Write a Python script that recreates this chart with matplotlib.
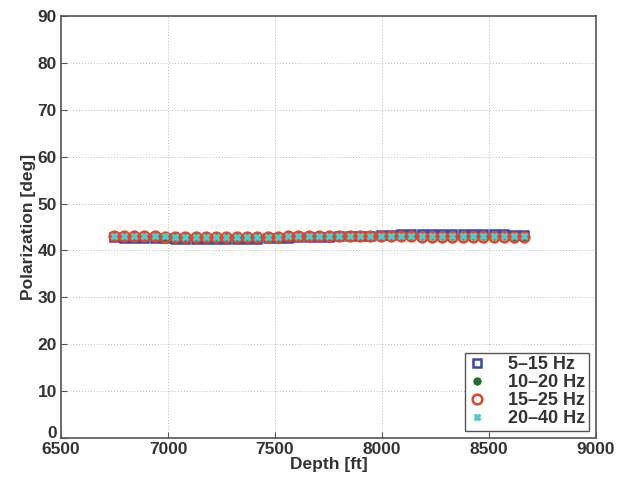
import matplotlib
matplotlib.use('Agg')
import matplotlib.pyplot as plt
import matplotlib.transforms as mtransforms

plt.rcParams['font.family'] = ['Liberation Sans', 'DejaVu Sans']

depth = [6745, 6793, 6841, 6889, 6937, 6985, 7033, 7081, 7129, 7177,
         7225, 7273, 7321, 7369, 7417, 7465, 7513, 7561, 7609, 7657,
         7705, 7753, 7801, 7849, 7897, 7945, 7993, 8041, 8089, 8137,
         8185, 8233, 8281, 8329, 8377, 8425, 8473, 8521, 8569, 8617, 8665]

pol_5_15 = [42.8, 42.7, 42.7, 42.7, 42.6, 42.6, 42.5, 42.5, 42.5, 42.4,
            42.4, 42.4, 42.4, 42.4, 42.5, 42.6, 42.7, 42.7, 42.8, 42.8,
            42.9, 42.9, 43.0, 43.0, 43.0, 43.1, 43.2, 43.3, 43.4, 43.5,
            43.5, 43.5, 43.5, 43.5, 43.5, 43.5, 43.5, 43.4, 43.4, 43.3, 43.3]
pol_10_20 = [43.0, 43.0, 43.0, 42.9, 42.9, 42.9, 42.8, 42.8, 42.8, 42.8,
             42.8, 42.8, 42.8, 42.8, 42.8, 42.8, 42.9, 42.9, 42.9, 42.9,
             43.0, 43.0, 43.0, 43.0, 43.0, 43.0, 43.1, 43.1, 43.1, 43.1,
             43.1, 43.1, 43.1, 43.1, 43.1, 43.1, 43.1, 43.0, 43.0, 43.0, 43.0]
pol_15_25 = [43.1, 43.1, 43.0, 43.0, 43.0, 42.9, 42.9, 42.9, 42.9, 42.9,
             42.9, 42.9, 42.9, 42.9, 42.9, 42.9, 42.9, 43.0, 43.0, 43.0,
             43.0, 43.0, 43.0, 43.0, 43.0, 43.0, 43.0, 43.0, 43.0, 43.0,
             42.9, 42.9, 42.9, 42.9, 42.9, 42.9, 42.9, 42.9, 42.9, 42.9, 42.9]
pol_20_40 = [43.0, 43.0, 43.0, 43.0, 43.0, 43.0, 42.9, 42.9, 42.9, 42.9,
             42.9, 42.9, 42.9, 42.9, 42.9, 42.9, 42.9, 43.0, 43.0, 43.0,
             43.0, 43.0, 43.0, 43.0, 43.0, 43.0, 43.0, 43.0, 43.0, 43.0,
             43.0, 43.0, 43.0, 43.0, 43.0, 43.0, 43.0, 43.0, 43.0, 43.0, 43.0]

fig = plt.figure(figsize=(6.17, 4.87), dpi=100)
ax = fig.add_axes([0.099, 0.101, 0.867, 0.866])

ax.plot(depth, pol_5_15, 's', mfc='none', mec='#3b47a0', mew=1.8, ms=6, label='5\u201315 Hz')
ax.plot(depth, pol_10_20, 'o', color='#1f6e2e', ms=5, label='10\u201320 Hz')
ax.plot(depth, pol_15_25, 'o', mfc='none', mec='#e0452c', mew=1.8, ms=7, label='15\u201325 Hz')
ax.plot(depth, pol_20_40, 'X', color='#5cc6c8', ms=4.5, label='20\u201340 Hz')

ax.set_xlim(6500, 9000)
ax.set_ylim(0, 90)
ax.set_xticks([6500, 7000, 7500, 8000, 8500, 9000])
ax.set_yticks(range(0, 91, 10))
ax.grid(True, linestyle=(0, (1, 2)), color='#bbbbbb', linewidth=0.7)
ax.tick_params(labelsize=12.5, direction='in', length=4, color='#555555', pad=3)
for lbl in ax.get_xticklabels() + ax.get_yticklabels():
    lbl.set_fontweight('bold')
    lbl.set_color('#333333')
# nudge the "0" label up so it sits just above "6500"
zero = ax.get_yticklabels()[0]
zero.set_transform(zero.get_transform() + mtransforms.ScaledTranslation(0, 4 / 72, fig.dpi_scale_trans))
for s in ax.spines.values():
    s.set_color('#555555')
    s.set_linewidth(1.2)

ax.set_xlabel('Depth [ft]', fontsize=12.5, fontweight='bold', labelpad=0, color='#333333')
ax.set_ylabel('Polarization [deg]', fontsize=12.5, fontweight='bold', labelpad=1, color='#333333')

leg = ax.legend(loc='lower right', fontsize=13, fancybox=False, framealpha=1,
                edgecolor='#555555', handletextpad=1.2, borderpad=0.2,
                labelspacing=0.05, handlelength=1.0, borderaxespad=0.4)
leg.get_frame().set_linewidth(1.0)
for t in leg.get_texts():
    t.set_fontweight('bold')
    t.set_color('#333333')

fig.savefig('out.png', dpi=100)
